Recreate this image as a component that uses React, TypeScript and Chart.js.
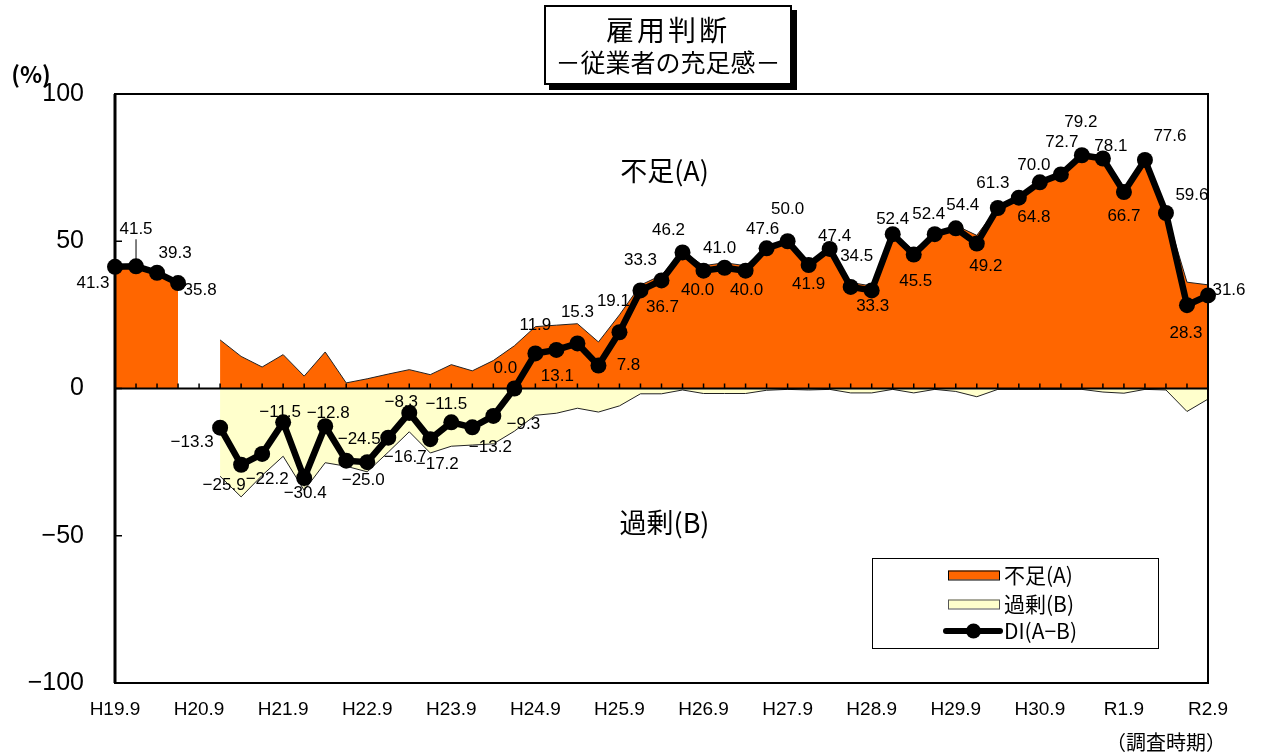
import React, { useEffect, useRef } from "react";
import { Chart, registerables } from "chart.js";

Chart.register(...registerables);

// Survey periods (quarterly)
const periods = [
  "H19.9", "H19.12", "H20.3", "H20.6",
  "H20.9", "H20.12", "H21.3", "H21.6",
  "H21.9", "H21.12", "H22.3", "H22.6",
  "H22.9", "H22.12", "H23.3", "H23.6",
  "H23.9", "H23.12", "H24.3", "H24.6",
  "H24.9", "H24.12", "H25.3", "H25.6",
  "H25.9", "H25.12", "H26.3", "H26.6",
  "H26.9", "H26.12", "H27.3", "H27.6",
  "H27.9", "H27.12", "H28.3", "H28.6",
  "H28.9", "H28.12", "H29.3", "H29.6",
  "H29.9", "H29.12", "H30.3", "H30.6",
  "H30.9", "H30.12", "H31.3", "R1.6",
  "R1.9", "R1.12", "R2.3", "R2.6",
  "R2.9",
];

// DI (A-B)
const diValues = [
  41.3, 41.5, 39.3, 35.8,
  null, -13.3, -25.9, -22.2,
  -11.5, -30.4, -12.8, -24.5,
  -25.0, -16.7, -8.3, -17.2,
  -11.5, -13.2, -9.3, 0.0,
  11.9, 13.1, 15.3, 7.8,
  19.1, 33.3, 36.7, 46.2,
  40.0, 41.0, 40.0, 47.6,
  50.0, 41.9, 47.4, 34.5,
  33.3, 52.4, 45.5, 52.4,
  54.4, 49.2, 61.3, 64.8,
  70.0, 72.7, 79.2, 78.1,
  66.7, 77.6, 59.6, 28.3,
  31.6,
];

// 不足(A)
const shortageA = [
  41.3, 41.5, 39.3, 35.8,
  null, 16.5, 10.9, 7.3,
  11.5, 4.2, 12.4, 1.9,
  3.3, 4.9, 6.4, 4.7,
  8.1, 6.0, 9.5, 14.5,
  21.0, 21.5, 22.0, 15.8,
  25.0, 35.1, 38.5, 46.7,
  41.7, 42.7, 41.7, 48.2,
  50.3, 42.4, 47.7, 36.0,
  34.8, 52.7, 47.0, 52.7,
  55.4, 52.0, 61.6, 65.1,
  70.3, 73.0, 79.5, 79.3,
  68.3, 77.9, 60.1, 36.1,
  35.2,
];

// 過剰(B) (plotted negative)
const surplusB = [
  0, 0, 0, 0,
  null, -29.8, -36.8, -29.5,
  -23.0, -34.6, -25.2, -26.4,
  -28.3, -21.6, -14.7, -21.9,
  -19.6, -19.2, -18.8, -14.5,
  -9.1, -8.4, -6.7, -8.0,
  -5.9, -1.8, -1.8, -0.5,
  -1.7, -1.7, -1.7, -0.6,
  -0.3, -0.5, -0.3, -1.5,
  -1.5, -0.3, -1.5, -0.3,
  -1.0, -2.8, -0.3, -0.3,
  -0.3, -0.3, -0.3, -1.2,
  -1.6, -0.3, -0.5, -7.8,
  -3.6,
];

// Label layout: offset of each DI value label from its point
const labelOffsets: ([number, number] | null)[] = [
  [-22, 16], [0, -37], [18, -19], [22, 7],
  null, [-28, 15], [-17, 21], [5, 25],
  [-3, -10], [1, 15], [3, -13], [13, -21],
  [-4, 18], [17, 20], [-8, -11], [7, 25],
  [-5, -18], [18, 20], [30, 8], [-9, -20],
  [0, -28], [1, 26], [0, -31], [30, 0],
  [-6, -31], [0, -30], [1, 27], [-14, -22],
  [-6, 20], [-5, -19], [1, 20], [-4, -19],
  [0, -32], [0, 19], [5, -13], [6, -31],
  [1, 16], [0, -15], [2, 27], [-6, -20],
  [7, -23], [9, 23], [-5, -25], [15, 20],
  [-6, -17], [1, -32], [-1, -33], [8, -12],
  [0, 24], [25, -24], [26, -18], [-1, 28],
  [21, -5],
];

const Y_MIN = -100;
const Y_MAX = 100;
const Y_STEP = 50;

const ORANGE = "#FF6600";
const CREAM = "#FFFFCC";
const FONT_JP = '"Noto Sans CJK JP", "Noto Sans", sans-serif';
const FONT_NUM = '"Liberation Sans", Arial, sans-serif';

const fmt = (v: number) => {
  const s = Math.abs(v).toFixed(1);
  return v < 0 ? "\u2212" + s : s;
};

const decorPlugin = {
  id: "decor",
  beforeDatasetDraw(chart: any, args: any) {
    if (args.index !== 0) return;
    const { ctx, chartArea, scales } = chart;
    const xs = scales.x;
    const ys = scales.y;
    const y0 = ys.getPixelForValue(0);
    ctx.save();
    // zero line
    ctx.strokeStyle = "#000";
    ctx.lineWidth = 2;
    ctx.beginPath();
    ctx.moveTo(chartArea.left, y0);
    ctx.lineTo(chartArea.right, y0);
    ctx.stroke();
    // quarterly tick marks
    ctx.lineWidth = 1.5;
    ctx.beginPath();
    for (let i = 0; i < periods.length; i++) {
      const px = xs.getPixelForValue(i);
      ctx.moveTo(px, y0);
      ctx.lineTo(px, y0 - 5);
    }
    ctx.stroke();
    // value labels
    const meta = chart.getDatasetMeta(0);
    ctx.fillStyle = "#000";
    ctx.font = `17px ${FONT_NUM}`;
    ctx.textAlign = "center";
    ctx.textBaseline = "middle";
    meta.data.forEach((pt: any, i: number) => {
      const v = diValues[i];
      const off = labelOffsets[i];
      if (v === null || v === undefined || !off) return;
      const lx = pt.x + off[0];
      const ly = pt.y + off[1];
      if (i === 1) {
        ctx.beginPath();
        ctx.lineWidth = 1;
        ctx.moveTo(pt.x, ly + 10);
        ctx.lineTo(pt.x, pt.y - 6);
        ctx.stroke();
      }
      ctx.fillText(fmt(v), lx, ly);
    });
    ctx.restore();
  },
  afterDraw(chart: any) {
    const { ctx, chartArea, scales } = chart;
    const ys = scales.y;
    const { left, right, top, bottom } = chartArea;
    ctx.save();
    // frame
    ctx.strokeStyle = "#000";
    ctx.lineWidth = 2;
    ctx.strokeRect(left, top, right - left, bottom - top);
    ctx.lineWidth = 3;
    ctx.beginPath();
    ctx.moveTo(left, top);
    ctx.lineTo(left, bottom);
    ctx.stroke();
    // inward y ticks
    ctx.lineWidth = 1.5;
    ctx.beginPath();
    for (let v = Y_MIN; v <= Y_MAX; v += Y_STEP) {
      const py = ys.getPixelForValue(v);
      ctx.moveTo(left, py);
      ctx.lineTo(left + 7, py);
    }
    ctx.stroke();

    // annotations
    ctx.fillStyle = "#000";
    ctx.textAlign = "center";
    ctx.textBaseline = "middle";
    ctx.font = `27px ${FONT_JP}`;
    const cx = (left + right) / 2 + 3;
    ctx.fillText("不足(A)", cx, ys.getPixelForValue(74));
    ctx.fillText("過剰(B)", cx, ys.getPixelForValue(-45.5));
    ctx.font = `bold 23px ${FONT_JP}`;
    ctx.fillText("(%)", 31, 74);
    ctx.font = `20px ${FONT_JP}`;
    ctx.fillText("（調査時期）", 1166, 742);

    // legend
    const lx = 872, ly = 558, lw = 286, lh = 90;
    ctx.fillStyle = "#fff";
    ctx.fillRect(lx, ly, lw, lh);
    ctx.strokeStyle = "#000";
    ctx.lineWidth = 1;
    ctx.strokeRect(lx + 0.5, ly + 0.5, lw, lh);
    const sx = 948, sw = 51, sh = 9;
    const rows = [575, 604, 631];
    ctx.fillStyle = ORANGE;
    ctx.fillRect(sx, rows[0] - sh / 2, sw, sh);
    ctx.strokeRect(sx + 0.5, rows[0] - sh / 2 + 0.5, sw, sh);
    ctx.fillStyle = CREAM;
    ctx.fillRect(sx, rows[1] - sh / 2, sw, sh);
    ctx.strokeStyle = "#555";
    ctx.strokeRect(sx + 0.5, rows[1] - sh / 2 + 0.5, sw, sh);
    ctx.strokeStyle = "#000";
    ctx.lineWidth = 6;
    ctx.lineCap = "round";
    ctx.beginPath();
    ctx.moveTo(sx - 2, rows[2]);
    ctx.lineTo(sx + sw + 1, rows[2]);
    ctx.stroke();
    ctx.fillStyle = "#000";
    ctx.beginPath();
    ctx.arc(sx + sw / 2, rows[2], 7.5, 0, Math.PI * 2);
    ctx.fill();
    ctx.font = `21px ${FONT_JP}`;
    ctx.textAlign = "left";
    ctx.fillText("不足(A)", 1004, rows[0]);
    ctx.fillText("過剰(B)", 1004, rows[1]);
    ctx.fillText("DI(A\u2212B)", 1004, rows[2]);
    ctx.restore();
  },
};

export default function App() {
  const canvasRef = useRef<HTMLCanvasElement | null>(null);

  useEffect(() => {
    if (!canvasRef.current) return;
    const chart = new Chart(canvasRef.current, {
      type: "line",
      data: {
        labels: periods,
        datasets: [
          {
            label: "DI(A-B)",
            data: diValues,
            borderColor: "#000",
            backgroundColor: "#000",
            borderWidth: 6.5,
            pointRadius: 8,
            pointBackgroundColor: "#000",
            pointBorderWidth: 0,
            pointHoverRadius: 8,
            fill: false,
            spanGaps: false,
            tension: 0,
            order: 0,
            clip: false,
          } as any,
          {
            label: "不足(A)",
            data: shortageA,
            borderColor: "#222",
            backgroundColor: ORANGE,
            borderWidth: 1,
            pointRadius: 0,
            fill: "origin",
            spanGaps: false,
            tension: 0,
            order: 1,
          },
          {
            label: "過剰(B)",
            data: surplusB,
            borderColor: "#222",
            backgroundColor: CREAM,
            borderWidth: 1,
            pointRadius: 0,
            fill: "origin",
            spanGaps: false,
            tension: 0,
            order: 2,
          },
        ],
      },
      options: {
        animation: false,
        responsive: true,
        maintainAspectRatio: false,
        layout: { padding: { left: 0, right: 64, top: 94, bottom: 0 } },
        plugins: {
          legend: { display: false },
          tooltip: { enabled: false },
          title: { display: false },
        },
        scales: {
          x: {
            type: "category",
            offset: false,
            grid: { display: false, drawTicks: false },
            border: { display: false },
            ticks: {
              autoSkip: false,
              maxRotation: 0,
              minRotation: 0,
              padding: 15,
              color: "#000",
              font: { family: FONT_NUM, size: 19 },
              callback: (_v: any, i: number) =>
                periods[i].endsWith(".9") ? periods[i] : "",
            },
            afterFit: (s: any) => {
              s.height = 72;
            },
          },
          y: {
            min: Y_MIN,
            max: Y_MAX,
            grid: { display: false, drawTicks: false },
            border: { display: false },
            ticks: {
              stepSize: Y_STEP,
              padding: 31,
              color: "#000",
              font: { family: FONT_NUM, size: 25 },
              callback: (v: any) =>
                Number(v) < 0 ? "\u2212" + Math.abs(Number(v)) : String(v),
            },
            afterFit: (s: any) => {
              s.width = 115;
            },
          },
        },
      },
      plugins: [decorPlugin],
    });
    return () => chart.destroy();
  }, []);

  return (
    <div
      style={{
        position: "fixed",
        left: 0,
        top: 0,
        width: 1272,
        height: 755,
        background: "#fff",
      }}
    >
      <canvas ref={canvasRef} style={{ position: "absolute", left: 0, top: 0 }} />
      <div
        style={{
          position: "absolute",
          left: 544,
          top: 5,
          width: 244,
          height: 76,
          border: "2px solid #000",
          boxShadow: "5px 5px 0 #000",
          background: "#fff",
          fontFamily: FONT_JP,
          color: "#000",
          textAlign: "center",
          lineHeight: 1,
        }}
      >
        <div style={{ fontSize: 28, letterSpacing: 3, marginTop: 8 }}>雇用判断</div>
        <div style={{ fontSize: 25, marginTop: 6, whiteSpace: "nowrap" }}>
          －従業者の充足感－
        </div>
      </div>
    </div>
  );
}
